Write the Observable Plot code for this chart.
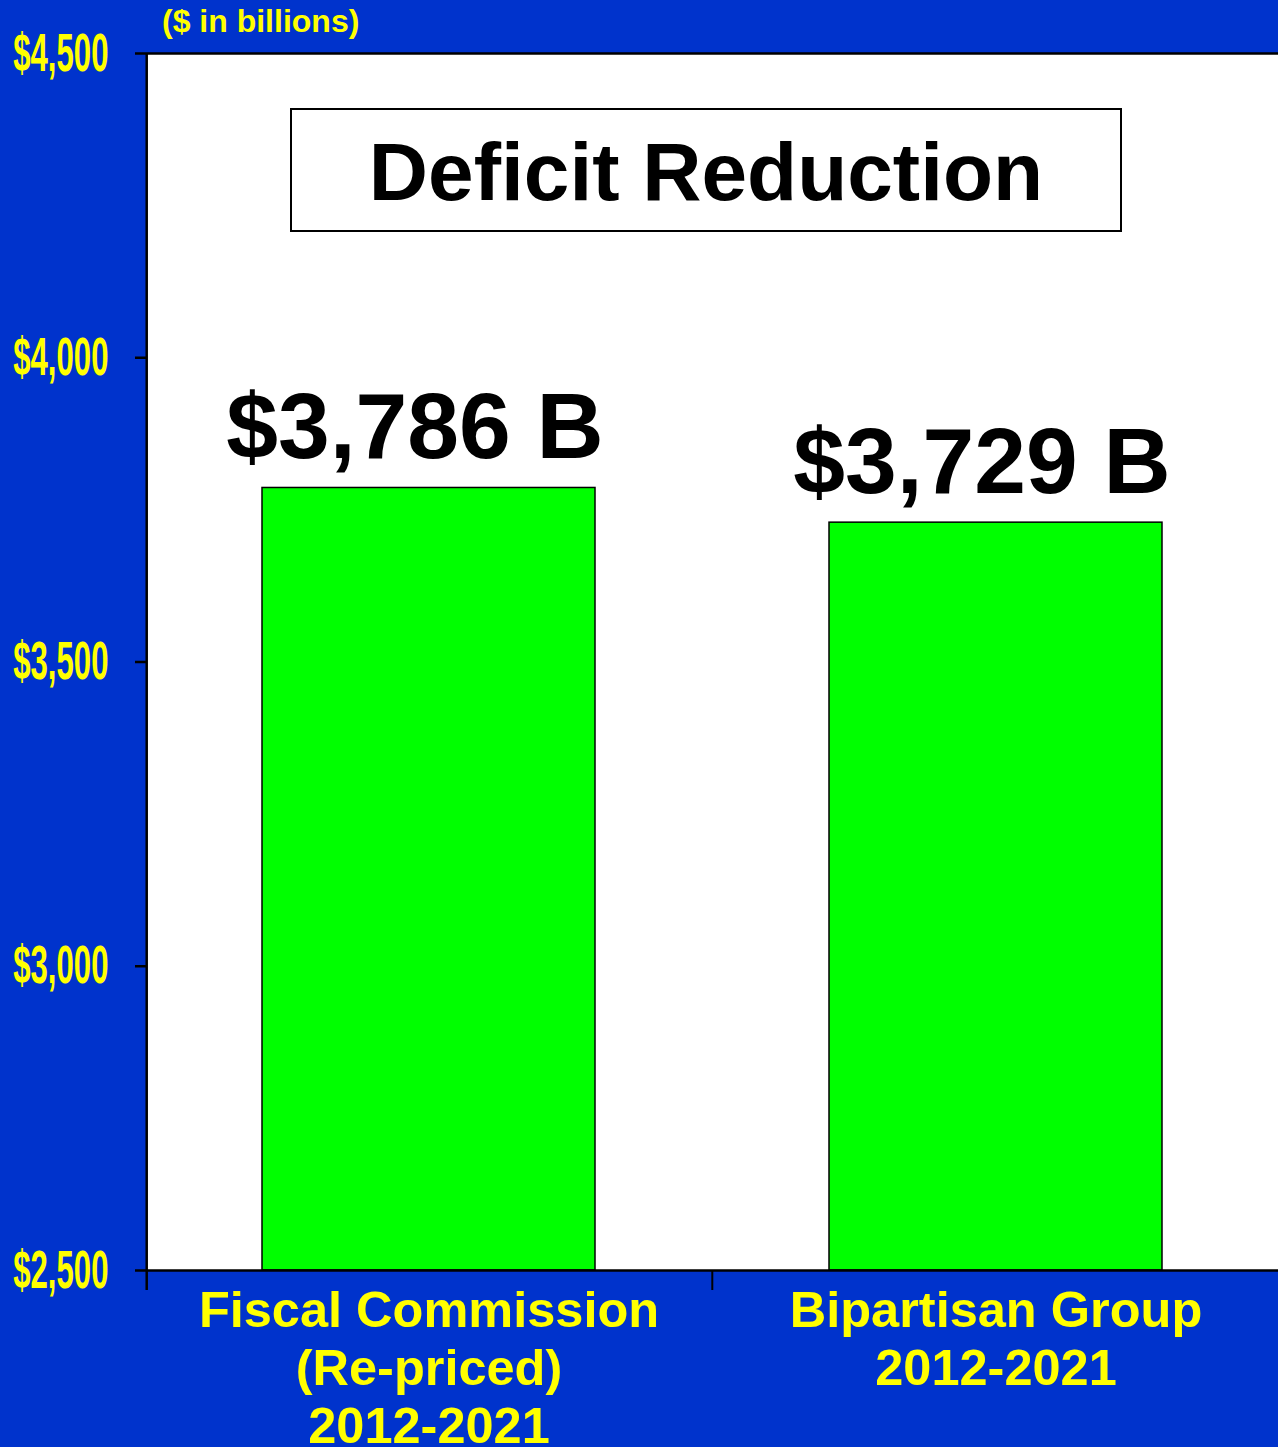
<!DOCTYPE html>
<html><head><meta charset="utf-8">
<script src="https://cdn.jsdelivr.net/npm/d3@7"></script>
<script src="https://cdn.jsdelivr.net/npm/@observablehq/plot@0.6"></script>
<style>
html,body{margin:0;padding:0;background:#0033CC;}
#wrap{position:relative;width:1278px;height:1447px;overflow:hidden;background:#0033CC;}
#wrap svg{position:absolute;left:0;top:0;}
#sub{position:absolute;left:162px;top:5px;font:bold 32px "Liberation Sans",Arial,sans-serif;line-height:32px;color:#FFFF00;white-space:nowrap;}
#title{position:absolute;left:290px;top:108px;width:828px;height:117px;border:2px solid #000;background:#fff;font:bold 82px "Liberation Sans",Arial,sans-serif;color:#000;display:flex;align-items:center;justify-content:center;padding-top:3px;box-sizing:content-box;}
</style></head>
<body>
<div id="wrap"></div>
<script>
const categories = ["Fiscal Commission\n(Re-priced)\n2012-2021", "Bipartisan Group\n2012-2021"];
const values = [3786, 3729];
const valueLabels = ["$3,786 B", "$3,729 B"];
const yTicks = [2500, 3000, 3500, 4000, 4500];
const yDomain = [2500, 4500];
const subtitle = "($ in billions)";
const title = "Deficit Reduction";

const W = 1278, H = 1447, mL = 146, mR = 0, mT = 53, mB = 177;
const pi = 0.413, po = 0.204;
const step = (W - mL - mR) / (categories.length - pi + 2 * po);
const bw = step * (1 - pi);

const data = categories.map((c, i) => ({cat: c, value: values[i], label: valueLabels[i]}));

const chart = Plot.plot({
  width: W, height: H,
  marginLeft: mL, marginRight: mR, marginTop: mT, marginBottom: mB,
  style: {background: "transparent", fontFamily: "'Liberation Sans', Arial, sans-serif", overflow: "visible"},
  x: {domain: categories, paddingInner: pi, paddingOuter: po},
  y: {domain: yDomain},
  marks: [
    Plot.frame({fill: "white", stroke: null}),
    Plot.barY(data, {x: "cat", y1: yDomain[0], y2: "value", fill: "#00FF00", stroke: "black", strokeWidth: 1.5}),
    Plot.ruleY([yDomain[1], yDomain[0]], {stroke: "black", strokeWidth: 2.5}),
    Plot.ruleX([categories[0]], {x: d => d, y1: yDomain[1], y2: yDomain[0], insetBottom: -20, dx: -(po * step + bw / 2), stroke: "black", strokeWidth: 2.5}),
    Plot.ruleX([categories[1]], {x: d => d, y1: yDomain[0], y2: yDomain[0], insetBottom: -20, dx: -step / 2, stroke: "black", strokeWidth: 2}),
    Plot.axisY(yTicks, {tickSize: 11, tickPadding: 27, tickFormat: d => "$" + d3.format(",")(d),
      fill: "#FFFF00", stroke: "black", strokeWidth: 2.5, fontSize: 38, fontWeight: "bold",
      fontFamily: "'Liberation Sans Narrow', 'Arial Narrow', sans-serif", label: null}),
    Plot.axisX({tickSize: 0, tickPadding: 15, fill: "#FFFF00", fontSize: 50.5, fontWeight: "bold", lineHeight: 1.15, label: null}),
    Plot.text(data, {x: "cat", y: "value", text: "label", dy: -30, dx: -14, lineAnchor: "bottom",
      fontSize: 93, fontWeight: "bold", fill: "black"})
  ]
});

const wrap = document.getElementById("wrap");
wrap.appendChild(chart);
chart.querySelectorAll('g[aria-label="y-axis tick label"] text').forEach(t => {
  const tr = t.getAttribute("transform") || "";
  t.setAttribute("transform", tr + " scale(0.82,1.4)");
});
const sub = document.createElement("div"); sub.id = "sub"; sub.textContent = subtitle; wrap.appendChild(sub);
const tt = document.createElement("div"); tt.id = "title"; tt.textContent = title; wrap.appendChild(tt);
</script>
</body></html>
